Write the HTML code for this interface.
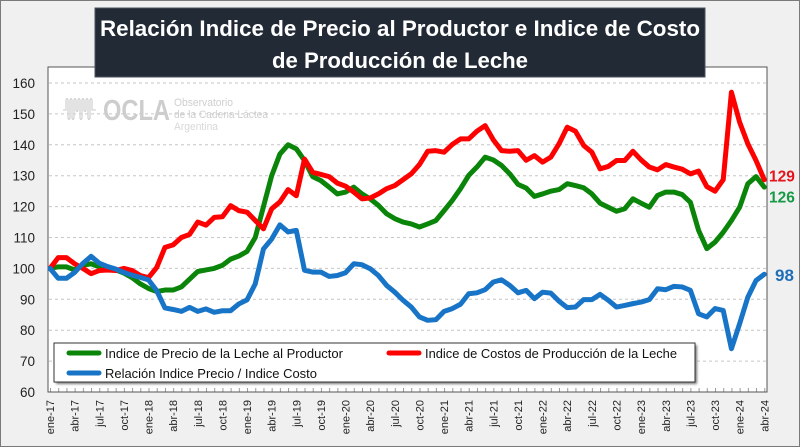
<!DOCTYPE html>
<html><head><meta charset="utf-8"><style>
html,body{margin:0;padding:0;background:#f0f0f0;}
svg{display:block;}
</style></head><body>
<svg width="800" height="447" viewBox="0 0 800 447" xmlns="http://www.w3.org/2000/svg" font-family="'Liberation Sans', sans-serif">
<defs>
<pattern id="tk" x="50" y="0" width="8.21" height="447" patternUnits="userSpaceOnUse">
<line x1="0.5" y1="0" x2="0.5" y2="447" stroke="#9a9a9a" stroke-width="1"/>
</pattern>
<filter id="sh" x="-5%" y="-30%" width="110%" height="160%"><feGaussianBlur stdDeviation="1.2"/></filter>
</defs>
<rect x="0.5" y="0.5" width="799" height="446" fill="#f0f0f0" stroke="#7a7a7a"/>
<!-- plot area -->
<rect x="48" y="67" width="719" height="325" fill="#ffffff" stroke="#555" stroke-width="1"/>
<!-- gridlines -->
<g stroke="#c6c6c6" stroke-width="1" stroke-dasharray="3 3">
<line x1="49" y1="83" x2="766" y2="83"/>
<line x1="49" y1="113.9" x2="766" y2="113.9"/>
<line x1="49" y1="144.8" x2="766" y2="144.8"/>
<line x1="49" y1="175.7" x2="766" y2="175.7"/>
<line x1="49" y1="206.6" x2="766" y2="206.6"/>
<line x1="49" y1="237.5" x2="766" y2="237.5"/>
<line x1="49" y1="268.4" x2="766" y2="268.4"/>
<line x1="49" y1="299.3" x2="766" y2="299.3"/>
<line x1="49" y1="330.2" x2="766" y2="330.2"/>
<line x1="49" y1="361.1" x2="766" y2="361.1"/>
</g>
<rect x="48" y="388" width="719" height="4" fill="url(#tk)"/>
<line x1="48" y1="392" x2="767" y2="392" stroke="#555" stroke-width="1"/>
<!-- logo -->
<g fill="none" stroke="#d4d4d4" stroke-width="1.3">
<path d="M63,110 L66,110 L66,100 Q67,97 68,100 L68,118 Q69,121 70,118 L70,100 Q71,97 72,100 L72,118 Q73,121 74,118 L74,100 Q75,97 76,100 L76,110 Q77,113 78,110 L78,100 Q79,97 80,100 L80,118 Q81,121 82,118 L82,100 Q83,97 84,100 L84,110 Q85,113 86,110 L86,100 Q87,97 88,100 L88,118 Q89,121 90,118 L90,100 Q91,97 92,100 L92,110 L96,110"/>
</g>
<text x="103" y="120" font-size="29" font-weight="bold" fill="#cdcdcd" textLength="67" lengthAdjust="spacingAndGlyphs">OCLA</text>
<text x="174" y="106" font-size="11" fill="#cfcfcf" textLength="59" lengthAdjust="spacingAndGlyphs">Observatorio</text>
<text x="174" y="118" font-size="11" fill="#cfcfcf" textLength="94" lengthAdjust="spacingAndGlyphs">de la Cadena Láctea</text>
<text x="174" y="130" font-size="11" fill="#d8d8d8" textLength="44" lengthAdjust="spacingAndGlyphs">Argentina</text>
<!-- series -->
<g transform="matrix(8.21 0 0 -3.09 50 577.4)" fill="none" stroke-linejoin="round" stroke-linecap="round">
<polyline vector-effect="non-scaling-stroke" stroke="#0a850a" stroke-width="5" points="0,100 1,100.5 2,100.5 3,99.5 4,101 5,101.5 6,100.5 7,100 8,99.5 9,98.5 10,97 11,95 12,93.5 13,92.5 14,93 15,93 16,94 17,96.5 18,99 19,99.5 20,100 21,101 22,103 23,104 24,105.5 25,110 26,120 27,130 28,137 29,140 30,138.7 31,134.9 32,129.7 33,128.4 34,126.3 35,124.1 36,124.7 37,126.3 38,124.1 39,122.5 40,120.4 41,117.7 42,116.1 43,115 44,114.4 45,113.4 46,114.4 47,115.5 48,118.7 49,122 50,125.8 51,130.1 52,132.8 53,136 54,135.1 55,133.3 56,130.6 57,127.2 58,126 59,123.3 60,124.1 61,125 62,125.5 63,127.4 64,126.8 65,126.1 66,124.1 67,121.1 68,119.8 69,118.5 70,119.3 71,122.5 72,121.1 73,119.8 74,123.6 75,124.7 76,124.7 77,123.9 78,121.4 79,112.3 80,106.4 81,108.5 82,111.7 83,115.5 84,119.8 85,127.4 86,129.7 87,126.3"/>
<polyline vector-effect="non-scaling-stroke" stroke="#ff0000" stroke-width="5" points="0,100 1,103.5 2,103.5 3,101.5 4,100 5,98.3 6,99.3 7,99.5 8,99.3 9,100 10,99.3 11,97.7 12,97 13,100.3 14,106.8 15,107.6 16,110 17,111 18,115 19,114 20,116.5 21,116.7 22,120.3 23,118.7 24,118.2 25,115.5 26,112.8 27,119.3 28,121.5 29,125.5 30,123.5 31,135.4 32,131.1 33,130.4 34,129.7 35,127.6 36,126.6 37,124.7 38,122.5 39,122.8 40,124.1 41,125.8 42,126.8 43,128.7 44,130.6 45,133.6 46,137.9 47,138.1 48,137.6 49,140.1 50,141.9 51,141.9 52,144.4 53,146.2 54,141.6 55,138.1 56,137.9 57,138.1 58,135 59,136.5 60,134.4 61,136 62,140.3 63,145.7 64,144.4 65,139.8 66,137.6 67,132.2 68,133 69,134.9 70,134.9 71,137.9 72,135.1 73,132.8 74,131.9 75,133.6 76,132.8 77,132.1 78,130.6 79,131.5 80,126.5 81,125 82,128.7 83,157 84,147.3 85,140.3 86,134.9 87,128.7"/>
<polyline vector-effect="non-scaling-stroke" stroke="#1874c6" stroke-width="5" points="0,100 1,96.8 2,96.8 3,98.7 4,101.6 5,103.9 6,101.7 7,100.6 8,99.8 9,98.7 10,97.8 11,97.1 12,96.3 13,92.8 14,87.2 15,86.7 16,86.1 17,87.4 18,86.1 19,86.9 20,85.8 21,86.3 22,86.3 23,88.5 24,89.8 25,95 26,106.3 27,109.5 28,114.1 29,111.8 30,112.3 31,99.4 32,98.8 33,98.8 34,97.4 35,97.7 36,98.6 37,101.5 38,101.2 39,99.9 40,97.7 41,94.5 42,92.3 43,89.7 44,87.5 45,84.3 46,83.2 47,83.4 48,86.1 49,87 50,88.4 51,91.8 52,92.1 53,93.1 54,95.6 55,96.3 56,94.5 57,92.1 58,92.9 59,90.2 60,92.3 61,92 62,89.4 63,87.3 64,87.5 65,89.9 66,89.9 67,91.6 68,89.7 69,87.5 70,88 71,88.6 72,89.1 73,89.9 74,93.4 75,93.1 76,94.2 77,94 78,92.9 79,85.3 80,84.3 81,87 82,86.4 83,74 84,82.1 85,90.7 86,96.1 87,98.1"/>
</g>
<!-- legend -->
<rect x="56" y="345" width="641" height="39" fill="#777" filter="url(#sh)"/>
<rect x="54" y="343" width="641" height="39" fill="#ffffff" stroke="#333" stroke-width="1"/>
<g stroke-width="5" stroke-linecap="round">
<line x1="69" y1="353" x2="99" y2="353" stroke="#0a850a"/>
<line x1="389" y1="353" x2="419" y2="353" stroke="#ff0000"/>
<line x1="69" y1="373" x2="99" y2="373" stroke="#1874c6"/>
</g>
<g font-size="13" fill="#111">
<text x="105" y="358" textLength="238" lengthAdjust="spacingAndGlyphs">Indice de Precio de la Leche al Productor</text>
<text x="425" y="358" textLength="252" lengthAdjust="spacingAndGlyphs">Indice de Costos de Producción de la Leche</text>
<text x="105" y="378" textLength="212" lengthAdjust="spacingAndGlyphs">Relación Indice Precio / Indice Costo</text>
</g>
<!-- title -->
<rect x="95" y="8" width="610" height="69" fill="#222a35" stroke="#4a5260" stroke-width="1"/>
<text x="400" y="36" font-size="22" font-weight="bold" fill="#ffffff" text-anchor="middle" textLength="600" lengthAdjust="spacingAndGlyphs">Relación Indice de Precio al Productor e Indice de Costo</text>
<text x="400" y="68" font-size="22" font-weight="bold" fill="#ffffff" text-anchor="middle" textLength="256" lengthAdjust="spacingAndGlyphs">de Producción de Leche</text>
<!-- y labels -->
<g font-size="13.5" fill="#222" text-anchor="end">
<text x="35" y="88">160</text>
<text x="35" y="118.9">150</text>
<text x="35" y="149.8">140</text>
<text x="35" y="180.7">130</text>
<text x="35" y="211.6">120</text>
<text x="35" y="242.5">110</text>
<text x="35" y="273.4">100</text>
<text x="35" y="304.3">90</text>
<text x="35" y="335.2">80</text>
<text x="35" y="366.1">70</text>
<text x="35" y="397">60</text>
</g>
<!-- x labels -->
<g font-size="11" fill="#222" text-anchor="end">
<text transform="translate(54,400) rotate(-90)">ene-17</text>
<text transform="translate(78.6,400) rotate(-90)">abr-17</text>
<text transform="translate(103.3,400) rotate(-90)">jul-17</text>
<text transform="translate(127.9,400) rotate(-90)">oct-17</text>
<text transform="translate(152.5,400) rotate(-90)">ene-18</text>
<text transform="translate(177.2,400) rotate(-90)">abr-18</text>
<text transform="translate(201.8,400) rotate(-90)">jul-18</text>
<text transform="translate(226.4,400) rotate(-90)">oct-18</text>
<text transform="translate(251,400) rotate(-90)">ene-19</text>
<text transform="translate(275.7,400) rotate(-90)">abr-19</text>
<text transform="translate(300.3,400) rotate(-90)">jul-19</text>
<text transform="translate(324.9,400) rotate(-90)">oct-19</text>
<text transform="translate(349.6,400) rotate(-90)">ene-20</text>
<text transform="translate(374.2,400) rotate(-90)">abr-20</text>
<text transform="translate(398.8,400) rotate(-90)">jul-20</text>
<text transform="translate(423.5,400) rotate(-90)">oct-20</text>
<text transform="translate(448.1,400) rotate(-90)">ene-21</text>
<text transform="translate(472.7,400) rotate(-90)">abr-21</text>
<text transform="translate(497.3,400) rotate(-90)">jul-21</text>
<text transform="translate(522,400) rotate(-90)">oct-21</text>
<text transform="translate(546.6,400) rotate(-90)">ene-22</text>
<text transform="translate(571.2,400) rotate(-90)">abr-22</text>
<text transform="translate(595.9,400) rotate(-90)">jul-22</text>
<text transform="translate(620.5,400) rotate(-90)">oct-22</text>
<text transform="translate(645.1,400) rotate(-90)">ene-23</text>
<text transform="translate(669.8,400) rotate(-90)">abr-23</text>
<text transform="translate(694.4,400) rotate(-90)">jul-23</text>
<text transform="translate(719,400) rotate(-90)">oct-23</text>
<text transform="translate(743.6,400) rotate(-90)">ene-24</text>
<text transform="translate(768.3,400) rotate(-90)">abr-24</text>
</g>
<!-- end labels -->
<g font-weight="bold">
<text x="769" y="181.5" font-size="15.5" fill="#e8141b">129</text>
<text x="769" y="202.5" font-size="15.5" fill="#179a47">126</text>
<text x="775" y="281" font-size="17" fill="#1f6fb8">98</text>
</g>
</svg>
</body></html>
